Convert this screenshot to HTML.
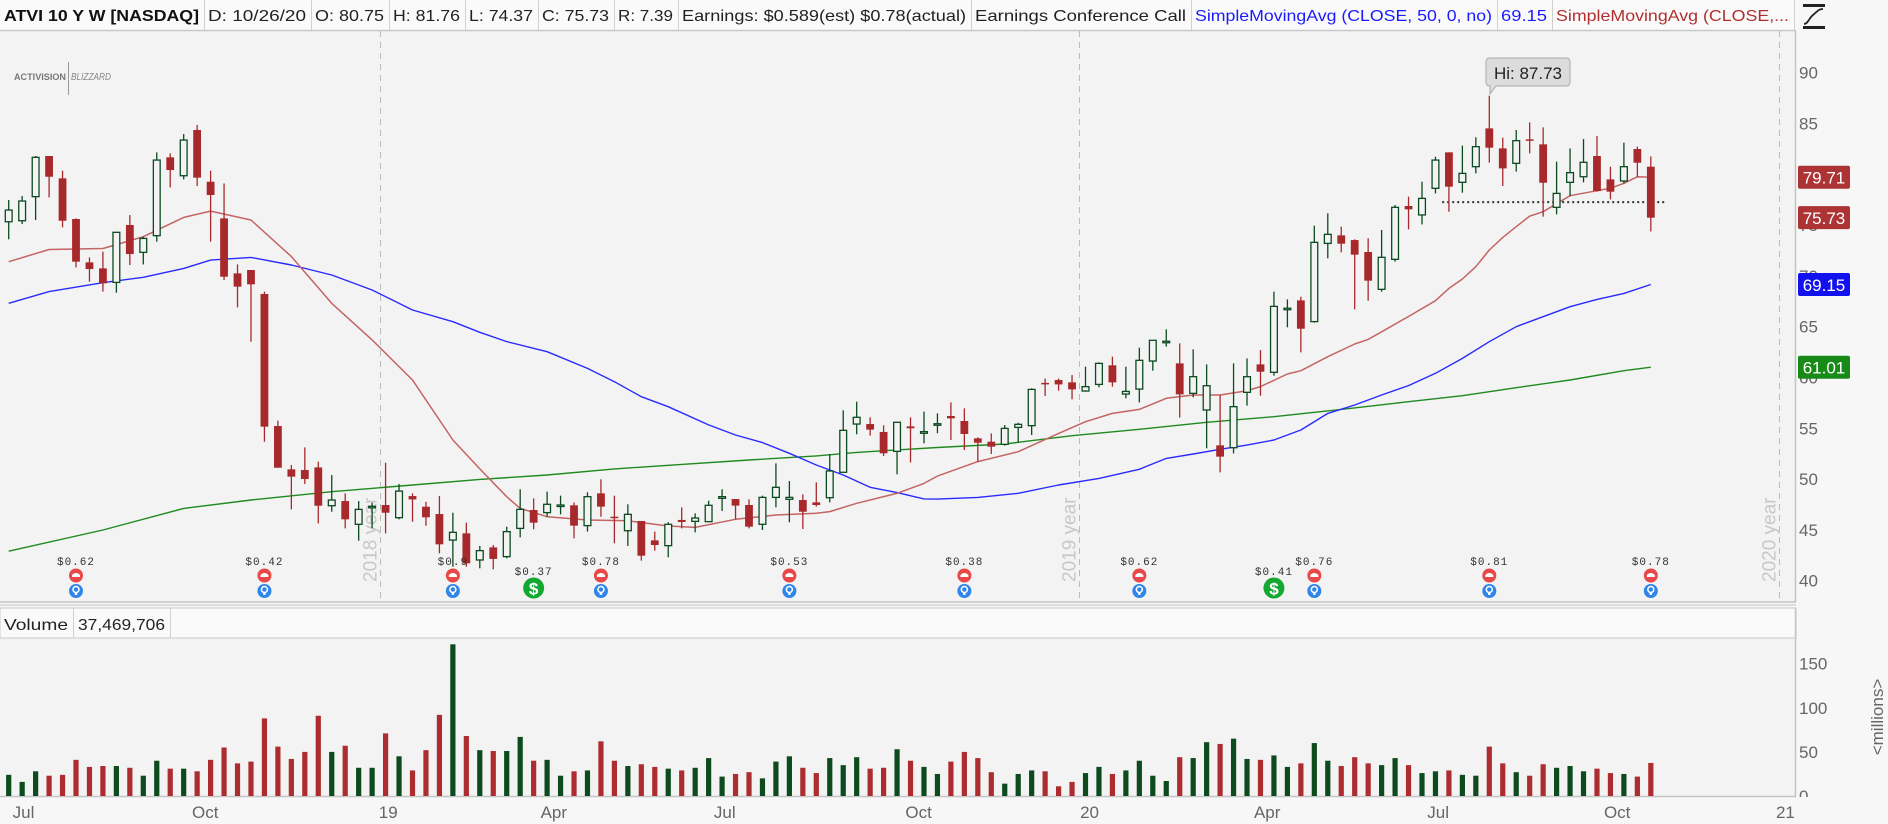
<!DOCTYPE html>
<html><head><meta charset="utf-8"><title>ATVI weekly chart</title>
<style>
html,body{margin:0;padding:0;background:#f7f7f7;}
svg{display:block;font-family:"Liberation Sans",sans-serif;}
</style></head>
<body>
<svg id="chart" xmlns="http://www.w3.org/2000/svg" width="1888" height="824" viewBox="0 0 1888 824">
  <rect x="0" y="0" width="1888" height="824" fill="#f7f7f7"/>
  <rect x="0" y="31" width="1796" height="571" fill="#f3f3f3"/>
  <rect x="0" y="638" width="1796" height="158" fill="#f3f3f3"/>
  <g id="header"></g>
  <g id="plot"></g>
</svg>
<script>
const opens=[75.33,75.43,77.8,81.8,79.6,75.6,71.33,70.74,69.36,75.01,72.32,73.96,81.67,79.86,84.36,79.27,75.66,70.25,70.58,68.22,55.22,50.96,50.89,51.15,47.38,47.84,45.55,47.22,47.45,46.2,48.33,47.28,46.56,44.0,44.66,42.04,43.28,42.37,45.15,46.96,46.7,47.35,47.42,45.42,48.6,46.3,44.92,45.88,43.97,43.45,45.98,45.84,45.81,48.11,48.04,47.45,45.55,48.2,48.01,47.94,47.71,48.17,50.67,55.42,55.42,54.64,52.73,55.19,54.51,55.39,56.21,55.72,54.01,53.68,53.42,55.09,55.26,59.47,59.75,59.52,58.67,59.32,61.2,58.37,58.86,61.62,63.55,61.39,58.44,56.8,53.32,53.09,58.54,61.29,60.51,66.8,67.59,65.5,73.2,73.99,73.53,72.35,68.68,71.63,76.88,76.0,78.62,82.16,79.21,80.75,84.52,82.55,81.08,83.44,82.95,76.75,79.21,79.76,81.8,79.5,79.34,82.49,80.75];
const highs=[77.47,77.86,81.8,81.8,80.35,75.66,71.82,72.38,74.29,75.99,73.86,82.16,82.06,83.96,84.85,80.35,79.1,71.13,70.58,68.45,55.75,51.38,53.12,51.71,50.4,48.6,47.84,47.68,51.61,49.51,48.6,47.77,48.33,46.69,45.71,43.42,43.51,45.32,49.0,48.1,48.76,48.37,47.71,48.7,49.98,48.37,47.52,45.88,44.83,45.75,47.22,46.63,47.88,49.0,48.04,48.01,48.37,51.55,49.81,48.5,49.68,52.47,56.77,57.62,56.08,55.29,55.59,56.08,56.64,56.47,57.55,56.96,54.11,54.5,55.32,55.55,58.93,59.9,59.9,60.24,61.06,61.49,62.05,61.06,62.93,63.66,64.74,63.36,62.77,61.29,58.28,61.39,61.88,62.7,68.45,67.69,67.95,74.94,76.16,74.84,73.6,73.7,74.52,76.98,77.8,79.27,81.73,82.16,82.82,83.64,87.73,83.6,84.36,85.11,84.62,81.24,82.55,83.47,83.77,80.75,83.11,82.72,81.76];
const lows=[73.6,75.1,75.5,77.73,74.78,70.84,69.43,68.45,68.35,71.07,71.13,73.37,78.71,79.5,78.85,73.37,69.59,66.9,63.52,53.68,51.12,47.02,49.51,45.64,46.79,45.15,43.94,45.15,44.66,46.04,45.8,45.41,42.69,41.38,41.38,41.22,41.12,42.2,44.27,45.06,46.3,46.53,44.17,44.83,46.3,43.68,43.42,41.97,42.96,42.3,45.15,44.76,45.81,46.86,46.04,45.15,44.99,47.22,45.75,45.09,47.29,47.71,50.67,54.41,54.28,52.28,50.47,51.65,53.52,54.51,53.85,52.86,51.71,52.47,53.29,53.58,54.34,58.18,58.7,57.85,58.6,59.03,59.09,57.95,57.55,60.67,63.03,56.05,58.05,53.03,50.66,52.53,57.23,58.21,60.18,64.94,62.47,65.4,71.73,72.32,66.71,67.56,68.45,71.4,74.58,75.07,78.12,76.32,78.19,80.09,81.14,78.85,80.26,82.06,75.83,76.06,77.86,79.21,78.29,77.53,79.11,79.76,74.37];
const closes=[76.48,77.37,81.67,79.76,75.43,71.4,70.68,69.27,74.29,72.15,73.69,81.4,80.42,83.37,79.67,77.96,69.92,68.94,69.17,55.16,51.12,50.24,50.01,47.38,47.94,46.04,47.02,47.32,46.69,48.82,48.0,46.24,43.58,44.76,41.71,42.96,42.14,44.83,47.02,45.71,47.52,47.45,45.42,48.27,47.29,46.24,46.53,42.46,43.51,45.55,45.78,46.17,47.42,48.27,47.39,45.32,48.2,49.19,48.2,46.79,47.45,50.8,54.8,56.08,54.87,52.54,55.59,55.0,54.67,55.45,55.98,54.44,53.58,53.19,54.99,55.39,58.83,59.42,59.32,58.83,59.1,61.39,59.52,58.63,61.69,63.66,63.57,58.34,60.08,59.19,52.21,57.13,60.08,60.57,67.0,66.82,64.8,73.3,74.09,73.17,72.09,69.53,71.83,76.75,76.55,77.63,81.4,78.78,80.09,82.72,82.62,80.58,83.31,83.31,79.17,78.12,80.16,81.18,78.35,78.29,80.75,81.14,75.73];
const volumes=[24,16,28,23,24,41,33,34,34,32,23,40,31,31,28,41,55,37,39,88,56,42,50,91,50,57,32,32,71,45,29,52,92,172,68,52,51,51,67,40,41,23,28,29,62,40,34,36,33,31,29,32,43,22,25,27,20,39,45,32,26,43,35,44,31,32,53,40,33,25,39,50,43,27,14,25,29,28,11,16,26,33,25,29,40,23,17,44,43,61,59,65,42,41,46,33,37,60,40,34,44,37,35,43,35,26,28,29,24,23,56,37,27,23,36,32,34,28,31,26,25,22,37.47];
// moving averages: [week index, value]
const smaRed=[[0,71.4],[3,72.6],[7,72.7],[10,73.86],[13,75.76],[15,76.38],[18,75.5],[21,71.9],[24,67.3],[27,63.7],[30,59.75],[33,53.85],[35,51.0],[37,48.27],[38,47.12],[40,46.3],[43,45.97],[46,45.9],[49,45.38],[51,45.25],[54,46.04],[57,46.47],[60,46.63],[61,46.8],[63,47.62],[66,48.6],[68,49.58],[69,50.3],[72,51.72],[75,52.7],[78,54.5],[80,55.65],[82,56.47],[84,56.86],[86,57.95],[88,58.28],[90,58.28],[92,58.7],[93,59.1],[95,60.34],[96,60.67],[98,62.05],[100,63.3],[101,63.75],[102,64.5],[104,66.0],[106,67.56],[107,68.77],[108,69.69],[109,70.91],[110,72.55],[111,73.79],[112,74.84],[113,75.89],[114,76.32],[116,77.89],[118,78.39],[119,78.62],[120,79.11],[121,79.76],[122,79.71]];
const smaBlue=[[0,67.3],[3,68.45],[7,69.33],[10,69.86],[13,70.74],[15,71.56],[18,71.82],[21,71.07],[24,70.09],[27,68.61],[30,66.64],[33,65.49],[35,64.45],[37,63.53],[40,62.54],[43,60.9],[45,59.59],[47,58.11],[49,57.13],[52,55.33],[54,54.34],[56,53.59],[58,52.54],[60,51.39],[62,50.4],[64,49.19],[66,48.67],[68,48.05],[69,48.03],[72,48.2],[75,48.6],[78,49.42],[81,50.07],[84,50.96],[86,52.04],[88,52.47],[90,52.93],[92,53.35],[94,53.85],[96,54.83],[98,56.47],[100,57.29],[102,58.28],[104,59.2],[106,60.41],[108,61.88],[110,63.52],[112,65.0],[114,65.98],[116,66.97],[118,67.69],[120,68.28],[122,69.15]];
const smaGreen=[[0,42.9],[7,44.99],[13,47.12],[18,47.94],[24,48.76],[30,49.42],[35,49.97],[40,50.4],[45,51.0],[50,51.45],[55,51.88],[60,52.28],[63,52.63],[66,52.87],[69,53.11],[74,53.45],[79,54.27],[84,54.9],[89,55.59],[94,56.14],[99,56.86],[104,57.62],[108,58.21],[112,59.0],[116,59.75],[120,60.67],[122,61.01]];
const priceTicks=[90,85,80,75,70,65,60,55,50,45,40];
const volumeTicks=[150,100,50,0];
const xTickLabels=["Jul","Oct","19","Apr","Jul","Oct","20","Apr","Jul","Oct","21"];
const xTickIdx=[1.1,14.6,28.2,40.5,53.2,67.6,80.3,93.5,106.2,119.5,132];
const earningsIdx=[5,19,33,44,58,71,84,97,110,122];
const earningsLabels=["$0.62","$0.42","$0.9","$0.78","$0.53","$0.38","$0.62","$0.76","$0.81","$0.78"];
const dividendIdx=[39,94];
const dividendLabels=["$0.37","$0.41"];
const yearIdx=[27.6,79.5,131.5];
const yearLabels=["2018 year","2019 year","2020 year"];
const supportLevel=77.26;

const NS="http://www.w3.org/2000/svg";
const X=i=>8.7+13.46*i;
const Y=p=>72.7+(90-p)*10.16;
const YV=v=>796-v*0.882;
const RED="#a8292c", GRN="#0b4a1f";
function mk(tag,attrs,parent){const e=document.createElementNS(NS,tag);for(const k in attrs)e.setAttribute(k,attrs[k]);(parent||plot).appendChild(e);return e;}
const plot=document.getElementById('plot');
const header=document.getElementById('header');

// header
mk('rect',{x:0,y:0,width:1796,height:30,fill:'#fafafa'},header);
mk('line',{x1:0,y1:30.5,x2:1796,y2:30.5,stroke:'#c8c8c8','stroke-width':1.5},header);
const cells=[[0,204,"ATVI 10 Y W [NASDAQ]","#111",'bold'],[204,311,"D: 10/26/20","#222"],[311,389,"O: 80.75","#222"],[389,465,"H: 81.76","#222"],[465,538,"L: 74.37","#222"],[538,614,"C: 75.73","#222"],[614,678,"R: 7.39","#222"],[678,971,"Earnings: $0.589(est) $0.78(actual)","#222"],[971,1191,"Earnings Conference Call","#222"],[1191,1497,"SimpleMovingAvg (CLOSE, 50, 0, no)","#1a1aff"],[1497,1552,"69.15","#1a1aff"],[1552,1794,"SimpleMovingAvg (CLOSE,...","#b03030"]];
cells.forEach((c,k)=>{
  const t=mk('text',{x:c[0]+4,y:21,'font-size':16,fill:c[3],'font-weight':c[4]||'normal',textLength:c[1]-c[0]-9,lengthAdjust:'spacingAndGlyphs'},header);
  t.textContent=c[2];
  
  
  if(k>0){mk('line',{x1:c[0]+.5,y1:0,x2:c[0]+.5,y2:30,stroke:'#d0d0d0'},header);}
});
mk('line',{x1:1794.5,y1:0,x2:1794.5,y2:30,stroke:'#d0d0d0'},header);
const icon=mk('g',{},header);


mk('rect',{x:1803,y:4,width:22,height:3,fill:'#222'},icon);
mk('rect',{x:1803,y:26,width:22,height:3,fill:'#222'},icon);
mk('path',{d:'M1804 24 C1808 24 1809 18 1813 15 C1817 12 1818 9 1823 9',fill:'none',stroke:'#222','stroke-width':1.8},icon);

// panel borders
mk('line',{x1:1795.5,y1:31,x2:1795.5,y2:602,stroke:'#c4c4c4','stroke-width':1.5});
mk('line',{x1:0,y1:602,x2:1796,y2:602,stroke:'#c4c4c4','stroke-width':1.5});
mk('line',{x1:0,y1:605,x2:1796,y2:605,stroke:'#d4d4d4','stroke-width':1.5});
mk('rect',{x:0,y:608,width:1796,height:30,fill:'#fafafa',stroke:'#c8c8c8','stroke-width':1});
mk('line',{x1:1795.5,y1:608,x2:1795.5,y2:796,stroke:'#c4c4c4','stroke-width':1.5});
mk('line',{x1:0,y1:796.5,x2:1796,y2:796.5,stroke:'#c4c4c4','stroke-width':1.5});
const vl=mk('text',{x:4,y:630,'font-size':16,fill:'#222',textLength:64,lengthAdjust:'spacingAndGlyphs'});vl.textContent='Volume';


mk('line',{x1:73.5,y1:608,x2:73.5,y2:638,stroke:'#d0d0d0'});
const vv=mk('text',{x:78,y:630,'font-size':16,fill:'#222',textLength:87,lengthAdjust:'spacingAndGlyphs'});vv.textContent='37,469,706';


mk('line',{x1:170.5,y1:608,x2:170.5,y2:638,stroke:'#d0d0d0'});

// logo
const logo=mk('g',{});


mk('text',{x:14,y:80,'font-size':9,fill:'#777','font-weight':'bold',textLength:52,lengthAdjust:'spacingAndGlyphs'},logo).textContent='ACTIVISION';
mk('line',{x1:68.5,y1:62,x2:68.5,y2:95,stroke:'#999'},logo);
mk('text',{x:71,y:80,'font-size':10,fill:'#888','font-style':'italic',textLength:40,lengthAdjust:'spacingAndGlyphs'},logo).textContent='BLIZZARD';

// year lines
yearIdx.forEach((yi,k)=>{
  const x=Math.round(X(yi))+.5;
  const l=mk('line',{x1:x,y1:31,x2:x,y2:602,stroke:'#bbb','stroke-dasharray':'6,5'});
  
  
  const t=mk('text',{x:x-4,y:582,'font-size':19,fill:'#c8c8c8',transform:`rotate(-90 ${x-4} 582)`});
  t.textContent=yearLabels[k];
  
  
});

// price ticks
priceTicks.forEach(p=>{
  const t=mk('text',{x:1799,y:Y(p)+6,'font-size':17,fill:'#666'});
  t.textContent=p;
  
  
});
volumeTicks.forEach(v=>{
  const t=mk('text',{x:1799,y:YV(v)+6,'font-size':17,fill:'#666'});
  t.textContent=v;
  
  
});
const mil=mk('text',{x:1883,y:717,'font-size':17,fill:'#666','text-anchor':'middle',transform:'rotate(-90 1883 717)'});
mil.textContent='<millions>';


mk('rect',{x:1796,y:797,width:92,height:27,fill:'#f7f7f7'});
xTickLabels.forEach((s,k)=>{
  const t=mk('text',{x:X(xTickIdx[k]),y:818,'font-size':17,fill:'#666','text-anchor':'middle'});
  t.textContent=s;
  
  
});

// moving averages
function line(arr,color,w,name){
  const d=arr.map((p,k)=>(k?'L':'M')+X(p[0]).toFixed(1)+' '+Y(p[1]).toFixed(1)).join(' ');
  const e=mk('path',{d:d,fill:'none',stroke:color,'stroke-width':w,'stroke-linejoin':'round'});
  
  
}
line(smaGreen,'#1f8a1f',1.4,'sma-200-line');
line(smaBlue,'#2a2aff',1.4,'sma-50-line');
line(smaRed,'#c46464',1.5,'sma-20-line');

// support dotted line
const sl=mk('line',{x1:X(106.5),y1:Y(supportLevel),x2:X(123.1),y2:Y(supportLevel),stroke:'#333','stroke-width':2,'stroke-dasharray':'2,3'});



// candles + volume
for(let i=0;i<opens.length;i++){
  const up=closes[i]>=opens[i];
  const col=up?GRN:RED;
  const x=X(i);
  const g=mk('g',{});
  
  
  mk('line',{x1:x,y1:Y(highs[i]),x2:x,y2:Y(lows[i]),stroke:col,'stroke-width':1.3},g);
  const top=Y(Math.max(opens[i],closes[i])), bot=Y(Math.min(opens[i],closes[i]));
  const h=Math.max(bot-top,1.5);
  if(up) mk('rect',{x:x-3.4,y:top,width:6.8,height:h,fill:'#f3f3f3',stroke:col,'stroke-width':1.3},g);
  else mk('rect',{x:x-3.9,y:top,width:7.8,height:h,fill:col},g);
  const vb=mk('rect',{x:x-2.6,y:YV(volumes[i]),width:5.2,height:796-YV(volumes[i]),fill:up?'#0d4a1e':'#ac2c2f'});
  
  
}

// earnings markers
earningsIdx.forEach((ei,k)=>{
  const x=X(ei);
  const g=mk('g',{});
  
  
  mk('text',{x:x,y:565,'font-size':11,fill:'#333','text-anchor':'middle','font-family':'Liberation Mono, monospace','letter-spacing':'1'},g).textContent=earningsLabels[k];
  mk('circle',{cx:x,cy:575.5,r:7,fill:'#e84848'},g);
  mk('path',{d:`M${x-4} ${577} h8 v-2 q-4 -4 -8 0 z`,fill:'#fff'},g);
  mk('circle',{cx:x,cy:591,r:7,fill:'#2f86e8'},g);
  mk('circle',{cx:x,cy:589.5,r:3,fill:'none',stroke:'#fff','stroke-width':1.5},g);
  mk('rect',{x:x-1.2,y:592,width:2.4,height:3,fill:'#fff'},g);
});
dividendIdx.forEach((di,k)=>{
  const x=X(di);
  const g=mk('g',{});
  
  
  mk('text',{x:x,y:575,'font-size':11,fill:'#333','text-anchor':'middle','font-family':'Liberation Mono, monospace','letter-spacing':'1'},g).textContent=dividendLabels[k];
  mk('circle',{cx:x,cy:588,r:10.5,fill:'#14a832'},g);
  mk('text',{x:x,y:594.5,'font-size':17,'font-weight':'bold',fill:'#fff','text-anchor':'middle'},g).textContent='$';
});

// Hi callout
(function(){
  const hiIdx=110;
  const g=mk('g',{});
  
  
  mk('path',{d:`M1486 62 q0 -4 4 -4 h76 q4 0 4 4 v20 q0 4 -4 4 h-70 l-6 8 v-8 h-0 q-4 0 -4 -4 z`,fill:'#dcdcdc',stroke:'#aaa','stroke-width':1},g);
  mk('text',{x:1528,y:79,'font-size':17,fill:'#222','text-anchor':'middle'},g).textContent='Hi: '+highs[hiIdx].toFixed(2);
})();

// right value badges
function badge(val,color,name){
  const y=Y(val);
  const g=mk('g',{});
  
  
  mk('rect',{x:1798,y:y-11.5,width:52,height:23,rx:2,fill:color},g);
  mk('text',{x:1824,y:y+6.5,'font-size':17,fill:'#fff','text-anchor':'middle'},g).textContent=val.toFixed(2);
}
badge(smaRed[smaRed.length-1][1],'#ad3434','sma-20-badge');
badge(closes[closes.length-1],'#ad3434','last-price-badge');
badge(smaBlue[smaBlue.length-1][1],'#1212ee','sma-50-badge');
badge(smaGreen[smaGreen.length-1][1],'#188a18','sma-200-badge');
</script>
</body></html>
